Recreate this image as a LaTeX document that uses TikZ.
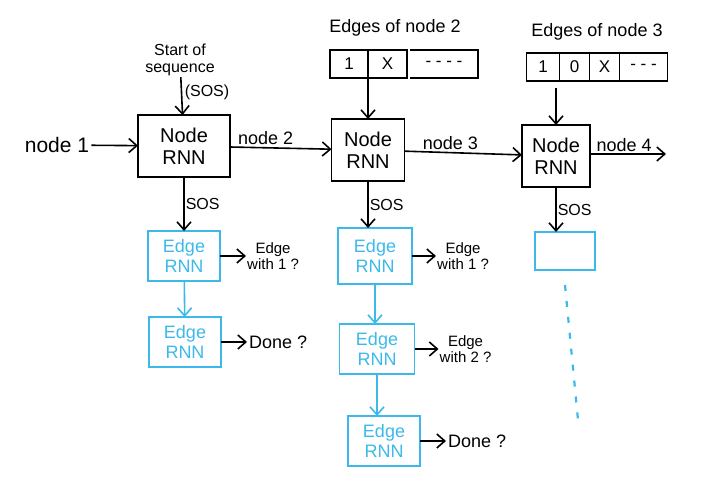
\documentclass[tikz,border=0pt]{standalone}
\usepackage{fontspec}
\setmainfont{Liberation Sans}
\usetikzlibrary{positioning}
\usetikzlibrary{arrows.meta}
\definecolor{edgeblue}{RGB}{60,185,235}
\tikzset{
    rnn/.style={draw, line width=1.8pt, align=center, font=\fontsize{20}{22}\selectfont, minimum height=62pt, inner sep=0pt, outer sep=0pt},
    ernn/.style={draw=edgeblue, text=edgeblue, line width=1.8pt, align=center, font=\fontsize{18}{20}\selectfont, minimum width=72pt, minimum height=50pt, inner sep=0pt, outer sep=0pt},
    cell/.style={draw, line width=1.6pt, minimum height=28pt, inner sep=0pt, outer sep=0pt, font=\fontsize{17}{18}\selectfont},
    lbl/.style={font=\fontsize{16}{17}\selectfont, align=center, inner sep=1pt},
    nlbl/.style={font=\fontsize{18}{19}\selectfont, align=center, inner sep=2pt},
    qlbl/.style={font=\fontsize{15}{16}\selectfont, align=center, inner sep=1pt},
    arr/.style={-{Straight Barb[length=8pt, width=14pt]}, line width=1.6pt},
}
\begin{document}
\begin{tikzpicture}[x=1pt, y=-1pt]
    \useasboundingbox (0,0) rectangle (727,478);
    % node RNNs
    \node[rnn, minimum width=92pt] (rnn1) at (184,146) {Node\\RNN};
    \node[rnn, minimum width=73pt] (rnn2) at (368,150) {Node\\RNN};
    \node[rnn, minimum width=68pt] (rnn3) at (556,156) {Node\\RNN};
    \node[nlbl, font=\fontsize{21}{22}\selectfont] (in1) at (57,145) {node 1};
    \node[lbl] (start) at (180,60) {Start of\\sequence};
    \node[lbl] (sosin) at (207,92) {(SOS)};
    \draw[arr] (in1) -- (rnn1);
    \draw[arr] (start) -- (rnn1);
    \draw[arr] (rnn1) -- node[nlbl, above, pos=0.35] (n2) {node 2} (rnn2);
    \draw[arr] (rnn2) -- node[nlbl, above, pos=0.39] (n3) {node 3} (rnn3);
    \coordinate (out4) at (666,154);
    \draw[arr] (rnn3.east |- out4) -- node[nlbl, above, pos=0.45] (n4) {node 4} (out4);
    % edges of node 2
    \node[nlbl] (e2) at (395,28) {Edges of node 2};
    \node[cell, minimum width=38pt] (a1) at (349,64) {1};
    \node[cell, minimum width=39pt, right=0pt of a1] (a2) {X};
    \node[cell, draw=none, minimum width=68pt, right=3pt of a2] (a3) {- - - -};
    \draw[line width=1.6pt] (a3.north west) -- (a3.north east) -- (a3.south east) -- (a3.south west);
    \draw[arr] (a1.south east) -- (rnn2.north);
    % edges of node 3
    \node[nlbl] (e3) at (597,32) {Edges of node 3};
    \node[cell, minimum width=33pt] (b1) at (543,67) {1};
    \node[cell, minimum width=30pt, right=0pt of b1] (b2) {0};
    \node[cell, minimum width=30pt, right=0pt of b2] (b3) {X};
    \node[cell, minimum width=48pt, right=0pt of b3] (b4) {- - -};
    \draw[arr, shorten <=7pt] (b1.south -| rnn3.north) -- (rnn3.north);
    % edge RNNs
    \node[ernn] (ed11) at (184,256) {Edge\\RNN};
    \node[ernn] (ed12) at (185,342) {Edge\\RNN};
    \node[ernn, minimum width=74pt, minimum height=56pt] (ed21) at (375,256) {Edge\\RNN};
    \node[ernn, minimum width=75pt] (ed22) at (377,349) {Edge\\RNN};
    \node[ernn] (ed23) at (384,441) {Edge\\RNN};
    \node[ernn, minimum width=60pt, minimum height=38pt] (ed31) at (565,251) {};
    \draw[arr] (rnn1) -- node[lbl, right] {SOS} (ed11);
    \draw[arr] (rnn2.south) -- node[lbl, right] {SOS} (rnn2.south |- ed21.north);
    \draw[arr] (rnn3.south) -- node[lbl, right] {SOS} (rnn3.south |- ed31.north);
    \draw[arr, edgeblue] (ed11) -- (ed12);
    \draw[arr, edgeblue] (ed21.south) -- (ed21.south |- ed22.north);
    \draw[arr, edgeblue] (ed22.south) -- (ed22.south |- ed23.north);
    \coordinate (dots) at (578,420);
    \draw[edgeblue, line width=2.2pt, dash pattern=on 6pt off 10pt] ([yshift=-15pt]ed31.south) -- (dots);
    % outputs
    \node[qlbl, right=26pt of ed11] (q11) {Edge\\with 1 ?};
    \node[nlbl, right=26pt of ed12] (q12) {Done ?};
    \node[qlbl, right=24pt of ed21] (q21) {Edge\\with 1 ?};
    \node[qlbl, right=24pt of ed22] (q22) {Edge\\with 2 ?};
    \node[nlbl, right=26pt of ed23] (q23) {Done ?};
    \draw[arr] (ed11) -- (q11);
    \draw[arr] (ed12) -- (q12);
    \draw[arr] (ed21) -- (q21);
    \draw[arr] (ed22) -- (q22);
    \draw[arr] (ed23) -- (q23);
\end{tikzpicture}
\end{document}
